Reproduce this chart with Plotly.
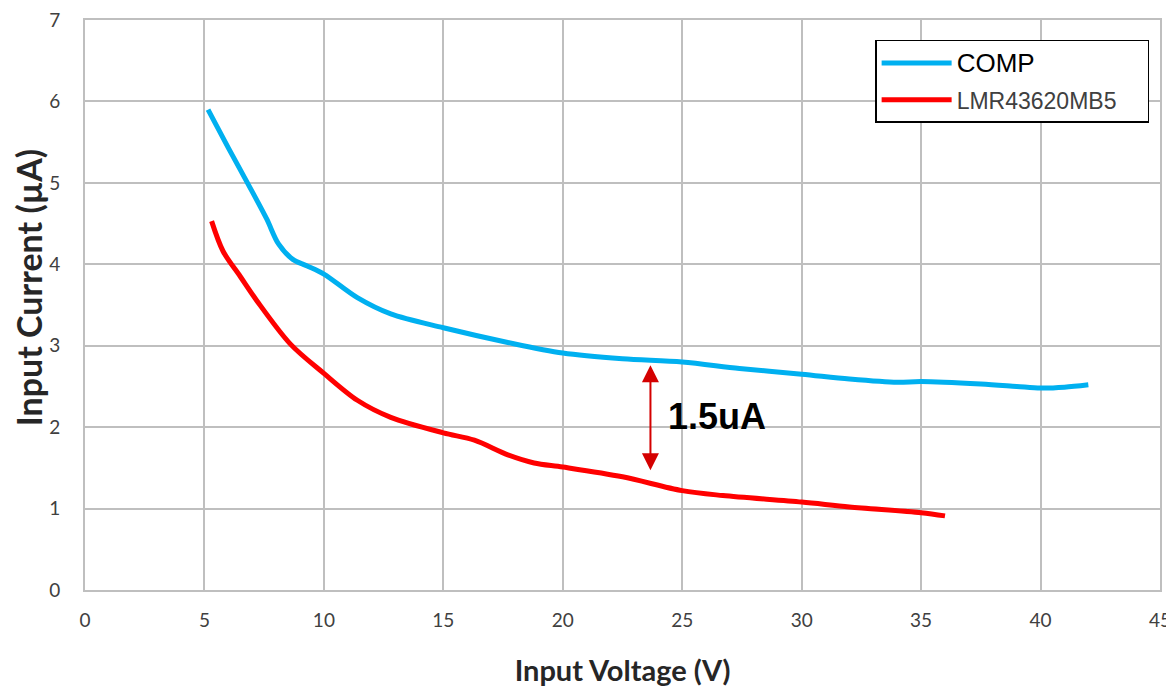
import plotly.graph_objects as go

# ---- data ----
comp_v = [5.15, 6.0, 6.8, 7.6, 8.1, 8.7, 9.3, 10.0, 11.4, 12.8, 15.0, 17.7, 20.0, 22.5, 25.0, 27.4, 30.0, 32.0, 34.0, 35.0, 37.5, 39.0, 40.0, 41.0, 42.0]
comp_i = [5.90, 5.43, 5.00, 4.56, 4.25, 4.06, 3.98, 3.88, 3.59, 3.39, 3.22, 3.04, 2.91, 2.84, 2.80, 2.72, 2.65, 2.59, 2.55, 2.56, 2.53, 2.50, 2.48, 2.49, 2.52]

lmr_v = [5.3, 5.78, 6.5, 7.2, 8.6, 10.0, 11.4, 12.8, 15.0, 16.3, 17.7, 18.8, 20.0, 22.5, 25.0, 26.7, 30.0, 32.0, 35.0, 36.0]
lmr_i = [4.53, 4.16, 3.85, 3.55, 3.02, 2.66, 2.33, 2.12, 1.93, 1.84, 1.66, 1.56, 1.51, 1.39, 1.22, 1.16, 1.08, 1.02, 0.95, 0.91]

x_ticks = [0, 5, 10, 15, 20, 25, 30, 35, 40, 45]
y_ticks = [0, 1, 2, 3, 4, 5, 6, 7]

arrow_v = 23.67
arrow_top = 2.78
arrow_bottom = 1.47
gap_label = "1.5uA"

fig = go.Figure()
fig.add_trace(go.Scatter(x=comp_v, y=comp_i, mode="lines",
                         name="<span style='font-size:26px'>COMP</span>",
                         legendgroup="a",
                         line=dict(color="#00b0f0", width=5, shape="spline", smoothing=0.9)))
fig.add_trace(go.Scatter(x=lmr_v, y=lmr_i, mode="lines",
                         name="<span style='color:#404040;font-size:23px'>LMR43620MB5</span>&nbsp;&nbsp;&nbsp;&nbsp;",
                         legendgroup="b",
                         line=dict(color="#ff0000", width=5, shape="spline", smoothing=0.9)))

# double-headed arrow
fig.add_annotation(x=arrow_v, y=arrow_bottom, ax=arrow_v, ay=arrow_top,
                   xref="x", yref="y", axref="x", ayref="y",
                   text="", showarrow=True, arrowhead=2, startarrowhead=2,
                   arrowside="end+start", arrowsize=1.7, startarrowsize=1.7,
                   arrowwidth=2, arrowcolor="#d40000")
fig.add_annotation(x=24.3, y=(arrow_top + arrow_bottom) / 2, xref="x", yref="y",
                   text="<b>" + gap_label + "</b>", showarrow=False, xanchor="left",
                   font=dict(family="Liberation Sans, Arial", size=36, color="black"))

grid = "#bfbfbf"
fig.update_layout(
    width=1174, height=688,
    margin=dict(l=77, r=22, t=12, b=106),
    plot_bgcolor="white", paper_bgcolor="white",
    showlegend=True,
    legend=dict(x=0.735, y=0.965, xanchor="left", yanchor="top",
                bgcolor="white", bordercolor="black", borderwidth=1.5,
                font=dict(family="Liberation Sans, Arial", size=23, color="black"),
                tracegroupgap=4, itemwidth=70),
    xaxis=dict(range=[0, 45], tickvals=x_ticks, showgrid=True, gridcolor=grid, gridwidth=2,
               showline=True, linecolor=grid, linewidth=2, mirror=True, zeroline=False,
               ticks="", ticklabelstandoff=12, automargin=False, ticklabeloverflow="allow",
               tickfont=dict(family="Lato, Open Sans", size=19, color="#404040"),
               title=dict(text="<b>Input Voltage (V)</b>", standoff=31,
                          font=dict(family="Lato, Open Sans", size=29, color="#262626"))),
    yaxis=dict(range=[0, 7], tickvals=y_ticks, showgrid=True, gridcolor=grid, gridwidth=2,
               showline=True, linecolor=grid, linewidth=2, mirror=True, zeroline=False,
               ticks="", ticklabelstandoff=19, automargin=False, ticklabeloverflow="allow",
               tickfont=dict(family="Lato, Open Sans", size=19, color="#404040"),
               title=dict(text="&nbsp;&nbsp;&nbsp;&nbsp;<b>Input Current (µA)</b>", standoff=10,
                          font=dict(family="Lato, Open Sans", size=34, color="#262626"))),
)

fig.write_html("out.html")
